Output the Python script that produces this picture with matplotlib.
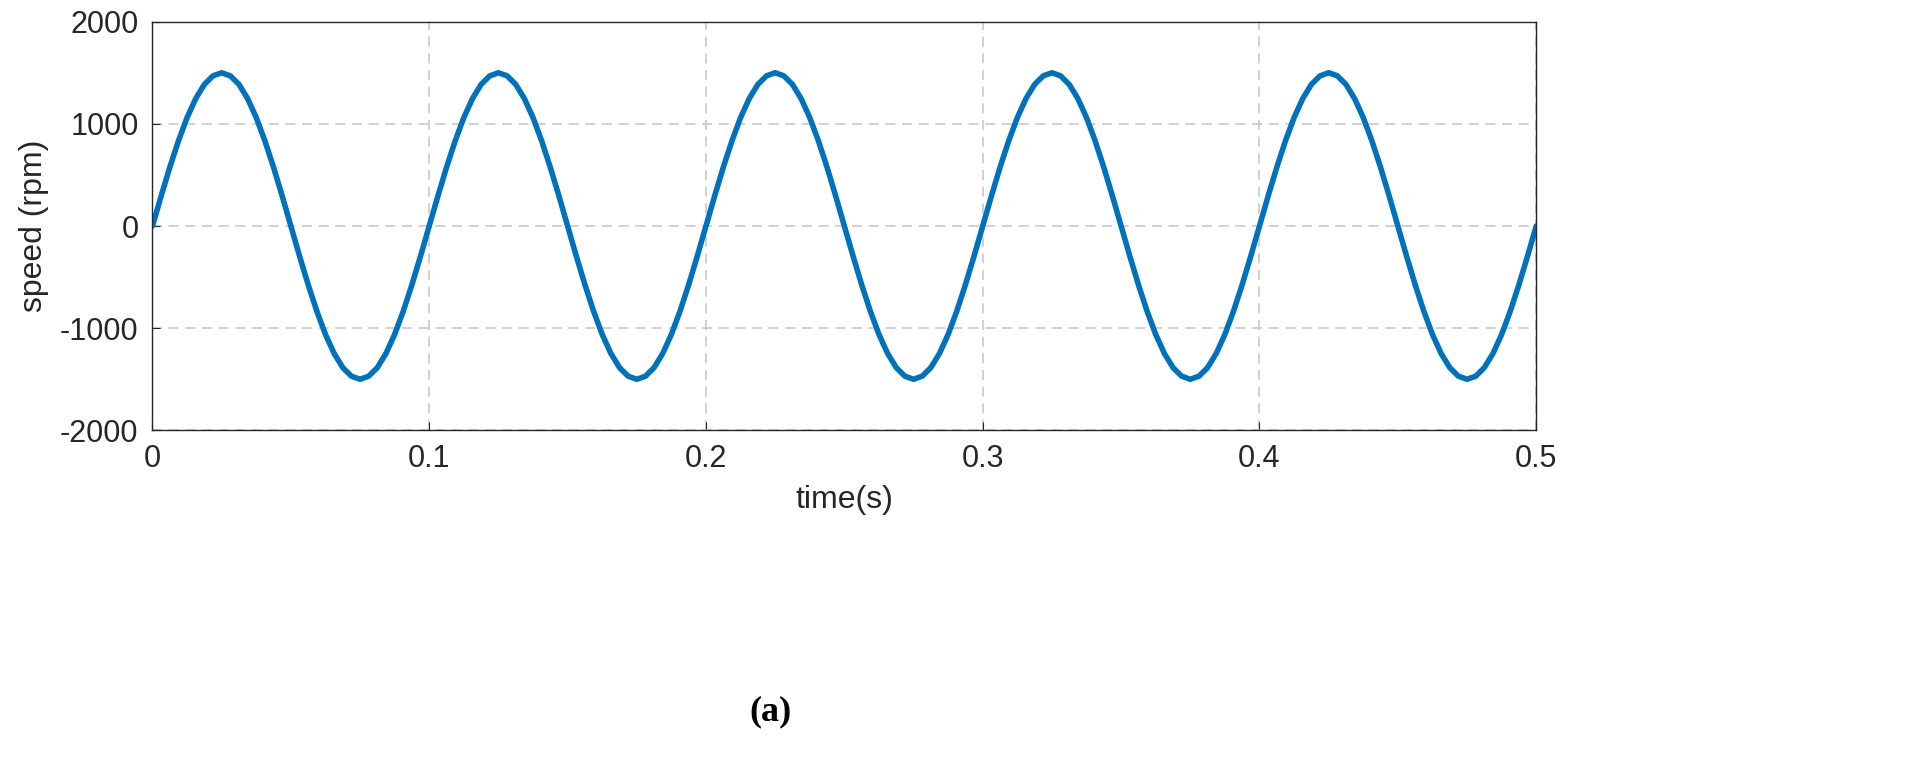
import matplotlib.pyplot as plt

# time axis, sampled every 0.003125 s
time_s = [i * 0.003125 for i in range(161)]

# speed values (rpm), one row per 0.1 s cycle
speed_rpm = [
    0, 293, 574, 833, 1061, 1247, 1386, 1470, 1500, 1470, 1386, 1247, 1061, 833, 574, 293,
    0, -293, -574, -833, -1061, -1247, -1386, -1470, -1500, -1470, -1386, -1247, -1061, -833, -574, -293,
    0, 293, 574, 833, 1061, 1247, 1386, 1470, 1500, 1470, 1386, 1247, 1061, 833, 574, 293,
    0, -293, -574, -833, -1061, -1247, -1386, -1470, -1500, -1470, -1386, -1247, -1061, -833, -574, -293,
    0, 293, 574, 833, 1061, 1247, 1386, 1470, 1500, 1470, 1386, 1247, 1061, 833, 574, 293,
    0, -293, -574, -833, -1061, -1247, -1386, -1470, -1500, -1470, -1386, -1247, -1061, -833, -574, -293,
    0, 293, 574, 833, 1061, 1247, 1386, 1470, 1500, 1470, 1386, 1247, 1061, 833, 574, 293,
    0, -293, -574, -833, -1061, -1247, -1386, -1470, -1500, -1470, -1386, -1247, -1061, -833, -574, -293,
    0, 293, 574, 833, 1061, 1247, 1386, 1470, 1500, 1470, 1386, 1247, 1061, 833, 574, 293,
    0, -293, -574, -833, -1061, -1247, -1386, -1470, -1500, -1470, -1386, -1247, -1061, -833, -574, -293,
    0,
]

x_ticks = [0, 0.1, 0.2, 0.3, 0.4, 0.5]
x_labels = ['0', '0.1', '0.2', '0.3', '0.4', '0.5']
y_ticks = [-2000, -1000, 0, 1000, 2000]

plt.rcParams['font.family'] = ['Liberation Sans', 'DejaVu Sans']
plt.rcParams['axes.unicode_minus'] = False

fig = plt.figure(figsize=(19.06, 7.74), dpi=100)
ax = fig.add_axes([0.08, 0.444, 0.726, 0.528])

ax.plot(time_s, speed_rpm, color='#0072BD', linewidth=4, solid_capstyle='round')

ax.set_xlim(0, 0.5)
ax.set_ylim(-2000, 2000)
ax.set_xticks(x_ticks)
ax.set_xticklabels(x_labels)
ax.set_yticks(y_ticks)
ax.tick_params(labelsize=22, direction='in', length=6, colors='#262626', pad=10)
ax.grid(True, linestyle=(0, (6, 4)), color='#c8c8c8', linewidth=1.2)
for s in ax.spines.values():
    s.set_color('#262626')
    s.set_linewidth(1)

ax.set_xlabel('time(s)', fontsize=23, color='#262626', labelpad=8)
ax.set_ylabel('speed (rpm)', fontsize=23, color='#262626', labelpad=8)

fig.text(0.404, 0.08, '(a)', fontsize=26, fontweight='bold', family='Liberation Serif', ha='center', va='center')

fig.savefig('out.png', dpi=100)
